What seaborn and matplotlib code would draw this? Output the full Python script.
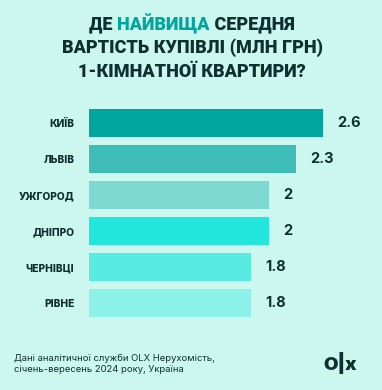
import matplotlib
matplotlib.use("Agg")
import matplotlib.pyplot as plt
import seaborn as sns
import pandas as pd

cities = ["КИЇВ", "ЛЬВІВ", "УЖГОРОД", "ДНІПРО", "ЧЕРНІВЦІ", "РІВНЕ"]
prices = [2.6, 2.3, 2.0, 2.0, 1.8, 1.8]
value_labels = ["2.6", "2.3", "2", "2", "1.8", "1.8"]
bar_colors = ["#00A59D", "#3DBDB6", "#7DD9D1", "#22E6DB", "#57EBE1", "#8BF1E9"]
title_parts = ["ДЕ ", "НАЙВИЩА", " СЕРЕДНЯ"]
title_lines = ["ВАРТІСТЬ КУПІВЛІ (МЛН ГРН)", "1-КІМНАТНОЇ КВАРТИРИ?"]
footer = "Дані аналітичної служби OLX Нерухомість,\nсічень-вересень 2024 року, Україна"

BG = "#CCF7EE"
DARK = "#0F2F31"
TEAL = "#00A59D"

sns.set_style("white")
plt.rcParams["font.family"] = ["Inter", "DejaVu Sans"]
TITLE_FONT = ["Roboto", "DejaVu Sans"]

df = pd.DataFrame({"city": cities, "price": prices})

fig = plt.figure(figsize=(3.82, 3.90), dpi=100, facecolor=BG)
ax = fig.add_axes([89 / 382, 1 - 321 / 390, 1 - 89 / 382, 216 / 390])
ax.set_facecolor(BG)
sns.barplot(data=df, x="price", y="city", hue="city", palette=bar_colors,
            legend=False, saturation=1, width=28 / 36, ax=ax, edgecolor="none")
ax.set_xlim(0, (382 - 89) / 90)
ax.set_ylim(5.5, -0.5)
for s in ax.spines.values():
    s.set_visible(False)
ax.set_xticks([])
ax.set_xlabel("")
ax.set_ylabel("")
ax.tick_params(axis="y", length=0, pad=10.5)
for lab in ax.get_yticklabels():
    lab.set_fontsize(7.3)
    lab.set_fontweight("heavy")
    lab.set_color(DARK)

for i, (v, t) in enumerate(zip(prices, value_labels)):
    ax.annotate(t, (v, i), xytext=(10, 0), textcoords="offset points",
                ha="left", va="center", fontsize=10.5, fontweight="bold", color=DARK)

# title
tfs = 13
fig.canvas.draw()
r = fig.canvas.get_renderer()
pieces = []
for p, c in zip(title_parts, [DARK, TEAL, DARK]):
    pieces.append(fig.text(0, 1 - 24 / 390, p, fontsize=tfs, fontweight="black",
                           family=TITLE_FONT, color=c, ha="left", va="center"))
widths = [pc.get_window_extent(r).width for pc in pieces]
total = sum(widths)
x = (382 - total) / 2 + 1
for pc, w in zip(pieces, widths):
    pc.set_x(x / 382)
    x += w
for j, line in enumerate(title_lines):
    fig.text(0.5 + 1 / 382, 1 - (48 + 24 * j) / 390, line, fontsize=tfs, fontweight="black",
             family=TITLE_FONT, color=DARK, ha="center", va="center")

fig.text(14 / 382, 1 - 364 / 390, footer, fontsize=6.8, color=DARK,
         ha="left", va="center", linespacing=1.35)
fig.text(340 / 382, 1 - 363 / 390, "O|x", fontsize=13.5, fontweight="black",
         color=DARK, ha="center", va="center")

fig.savefig("out.png", dpi=100, facecolor=BG)
